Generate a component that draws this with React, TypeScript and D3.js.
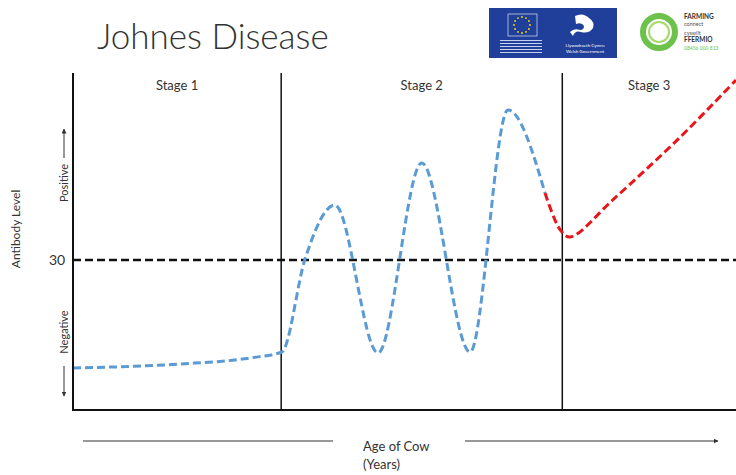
import React from 'react';
import * as d3 from 'd3';

// stage labels and where they start / end on the age axis
const STAGES = ['Stage 1', 'Stage 2', 'Stage 3'];
const STAGE_BOUNDS = [0, 31.4, 73.8, 100];
const THRESHOLD = 30;

// blue (sub-clinical) antibody curve
const BLUE_AGE = [0, 16.1, 26.7, 31.5, 35, 39.5, 46.0, 52.6, 59.9, 65.6, 71.2];
const BLUE_LEVEL = [8.4, 9.2, 10.4, 11.6, 30.2, 41, 11.4, 49.4, 11.6, 60, 43.4];

// red (clinical) antibody curve
const RED_AGE = [71.2, 73.5, 75, 81.4, 91.6, 100];
const RED_LEVEL = [43.4, 36, 34.6, 42, 54.6, 66];

const W = 736;
const H = 475;
const font = 'Lato, "Open Sans", sans-serif';

export default function App() {
  const x = d3.scaleLinear().domain([0, 100]).range([73, 736]);
  const y = d3.scaleLinear().domain([0, 67.4]).range([410, 73]);

  const line = d3
    .line<[number, number]>()
    .x((d) => x(d[0]))
    .y((d) => y(d[1]))
    .curve(d3.curveMonotoneX);
  const smooth = d3
    .line<[number, number]>()
    .x((d) => x(d[0]))
    .y((d) => y(d[1]))
    .curve(d3.curveCatmullRom.alpha(0.5));

  const bluePts = BLUE_AGE.map((a, i) => [a, BLUE_LEVEL[i]] as [number, number]);
  const redPts = RED_AGE.map((a, i) => [a, RED_LEVEL[i]] as [number, number]);

  const stars = d3.range(12).map((i) => {
    const ang = (i / 12) * Math.PI * 2;
    return <circle key={i} cx={522 + 8 * Math.cos(ang)} cy={25 + 8 * Math.sin(ang)} r={0.9} fill="#ffdd00" />;
  });

  return (
    <svg width={W} height={H} style={{ position: 'absolute', left: 0, top: 0, background: '#fff' }}>
      <defs>
        <marker id="arr" viewBox="0 0 10 10" refX="9" refY="5" markerWidth="5" markerHeight="5" orient="auto">
          <path d="M0,0 L10,5 L0,10 z" fill="#333" />
        </marker>
      </defs>

      {/* title */}
      <text x={97} y={49} fontFamily={font} fontSize={35} fontWeight={300} fill="#333">
        Johnes Disease
      </text>

      {/* EU / Welsh Government logo */}
      <rect x={489} y={8} width={128} height={50} fill="#1f3f9a" />
      <rect x={508} y={14} width={29} height={22} fill="#1f3f9a" stroke="#fff" strokeWidth={0.6} />
      {stars}
      {[40, 43, 46, 49, 52].map((yy, i) => (
        <rect key={i} x={500} y={yy} width={42} height={1} fill="#c8d2ee" />
      ))}
      <path d="M575,16 q8,-4 14,2 q6,4 4,10 q-4,6 -12,4 q-6,-2 -8,4 l-3,-4 q4,-4 10,-2 q4,0 4,-4 q-2,-4 -8,-2 z" fill="#fff" />
      <text x={585} y={47} fontFamily={font} fontSize={4.5} fill="#fff" textAnchor="middle">Llywodraeth Cymru</text>
      <text x={585} y={53} fontFamily={font} fontSize={4.5} fill="#fff" textAnchor="middle">Welsh Government</text>

      {/* Farming Connect logo */}
      <circle cx={659} cy={32} r={16} fill="none" stroke="#6cc24a" strokeWidth={6} />
      <circle cx={659} cy={32} r={10} fill="none" stroke="#a6d96a" strokeWidth={2} />
      <text x={684} y={19} fontFamily={font} fontSize={6.5} fontWeight={700} fill="#333">FARMING</text>
      <text x={684} y={26} fontFamily={font} fontSize={5.5} fill="#555">connect</text>
      <text x={684} y={35} fontFamily={font} fontSize={5.5} fill="#555">cyswllt</text>
      <text x={684} y={42} fontFamily={font} fontSize={6.5} fontWeight={700} fill="#333">FFERMIO</text>
      <text x={684} y={50} fontFamily={font} fontSize={5} fill="#6cc24a">08456 000 813</text>

      {/* stage dividers */}
      {STAGE_BOUNDS.slice(1, 3).map((b, i) => (
        <line key={i} x1={x(b)} x2={x(b)} y1={y.range()[1]} y2={y.range()[0]} stroke="#111" strokeWidth={1.5} />
      ))}
      {STAGES.map((s, i) => (
        <text
          key={s}
          x={(x(STAGE_BOUNDS[i]) + x(STAGE_BOUNDS[i + 1])) / 2}
          y={90}
          textAnchor="middle"
          fontFamily={font}
          fontSize={13}
          fill="#333"
        >
          {s}
        </text>
      ))}

      {/* threshold */}
      <line x1={x(0)} x2={x(100)} y1={y(THRESHOLD)} y2={y(THRESHOLD)} stroke="#111" strokeWidth={2.5} strokeDasharray="8,4" />
      <text x={57} y={y(THRESHOLD) + 5} textAnchor="middle" fontFamily={font} fontSize={14} fill="#333">
        {THRESHOLD}
      </text>

      {/* curves */}
      <path d={line(bluePts) || ''} fill="none" stroke="#5b9bd5" strokeWidth={3} strokeDasharray="8,4" />
      <path d={smooth(redPts) || ''} fill="none" stroke="#e8161b" strokeWidth={3} strokeDasharray="8,4" />

      {/* axes */}
      <line x1={x(0)} x2={x(0)} y1={y.range()[1]} y2={y.range()[0] + 1} stroke="#111" strokeWidth={2} />
      <line x1={x(0)} x2={x(100)} y1={y.range()[0]} y2={y.range()[0]} stroke="#111" strokeWidth={2} />

      {/* y labels */}
      <text transform="translate(20,229) rotate(-90)" textAnchor="middle" fontFamily={font} fontSize={12} fill="#333">
        Antibody Level
      </text>
      <text transform="translate(68,183) rotate(-90)" textAnchor="middle" fontFamily={font} fontSize={11} fill="#333">
        Positive
      </text>
      <line x1={64} x2={64} y1={158} y2={129} stroke="#333" strokeWidth={1} markerEnd="url(#arr)" />
      <text transform="translate(68,332) rotate(-90)" textAnchor="middle" fontFamily={font} fontSize={11} fill="#333">
        Negative
      </text>
      <line x1={64} x2={64} y1={366} y2={396} stroke="#333" strokeWidth={1} markerEnd="url(#arr)" />

      {/* x label */}
      <line x1={83} x2={333} y1={441} y2={441} stroke="#333" strokeWidth={1} />
      <line x1={465} x2={718} y1={441} y2={441} stroke="#333" strokeWidth={1} markerEnd="url(#arr)" />
      <text x={363} y={451} fontFamily={font} fontSize={13} fill="#333">Age of Cow</text>
      <text x={363} y={469} fontFamily={font} fontSize={13} fill="#333">(Years)</text>
    </svg>
  );
}
